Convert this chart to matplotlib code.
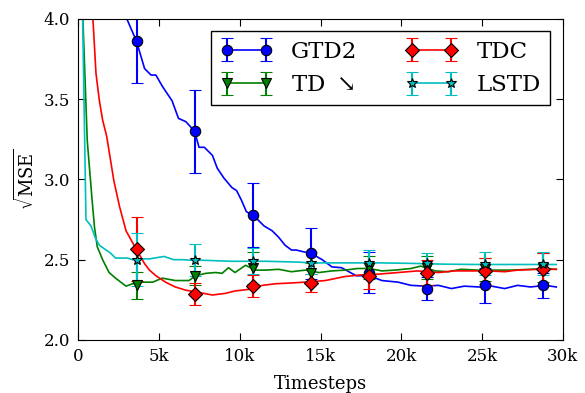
import numpy as np
import matplotlib
matplotlib.use('Agg')
import matplotlib.pyplot as plt

plt.rcParams['font.family'] = 'DejaVu Serif'
plt.rcParams['mathtext.fontset'] = 'dejavuserif'

# curves (x in thousands of timesteps)
gtd2_x = [2.0, 3.0, 3.6, 4.1, 4.5, 4.8, 5.2, 5.8, 6.2, 6.65, 7.2, 7.47, 7.8, 8.3, 8.6, 9.0, 9.5, 9.8,
          10.1, 10.4, 10.7, 11.0, 11.5, 12.0, 12.4, 12.8, 13.2, 13.5, 13.9, 14.4, 15.1, 15.7, 16.3,
          17.2, 18.0, 18.8, 19.8, 20.6, 21.5, 22.3, 23.1, 23.9, 24.8, 25.6, 26.4, 27.2, 28.0, 28.9, 29.6]
gtd2_y = [4.25, 4.0, 3.86, 3.69, 3.65, 3.65, 3.58, 3.49, 3.38, 3.36, 3.30, 3.20, 3.20, 3.15, 3.07, 3.01,
          2.95, 2.93, 2.87, 2.80, 2.78, 2.76, 2.71, 2.68, 2.64, 2.59, 2.56, 2.56, 2.55, 2.54, 2.50, 2.455,
          2.45, 2.40, 2.40, 2.37, 2.36, 2.34, 2.335, 2.34, 2.32, 2.335, 2.33, 2.335, 2.32, 2.34, 2.33,
          2.34, 2.33]

td_x = [0.1, 0.55, 0.85, 1.0, 1.17, 1.5, 1.9, 2.3, 2.95, 3.35, 3.96, 4.6, 5.2, 6.0, 6.85, 7.26, 7.9, 8.5,
        8.9, 9.3, 9.7, 10.35, 10.97, 11.6, 12.4, 13.2, 14.05, 14.9, 15.7, 16.5, 17.3, 18.0, 18.8, 19.6,
        20.6, 21.2, 22.1, 22.9, 23.7, 24.75, 25.8, 26.8, 28.0, 28.9, 29.6]
td_y = [4.5, 3.24, 2.87, 2.70, 2.58, 2.50, 2.42, 2.385, 2.335, 2.35, 2.36, 2.36, 2.385, 2.37, 2.37, 2.40,
        2.415, 2.42, 2.415, 2.45, 2.42, 2.465, 2.435, 2.435, 2.44, 2.425, 2.435, 2.42, 2.43, 2.435, 2.445,
        2.445, 2.43, 2.435, 2.445, 2.46, 2.43, 2.425, 2.44, 2.435, 2.435, 2.435, 2.44, 2.445, 2.44]

tdc_x = [0.6, 0.9, 1.09, 1.3, 1.5, 1.75, 2.2, 2.55, 2.95, 3.5, 4.1, 4.4, 4.8, 5.4, 6.0, 6.65, 7.5, 8.3,
         9.1, 9.7, 10.55, 11.4, 12.2, 13.2, 14.05, 15.3, 16.5, 17.5, 18.6, 19.8, 21.0, 22.3, 23.3, 24.3,
         25.4, 26.4, 27.2, 28.5, 29.6]
tdc_y = [4.55, 4.0, 3.66, 3.49, 3.37, 3.27, 2.99, 2.83, 2.68, 2.58, 2.475, 2.435, 2.40, 2.36, 2.33, 2.31,
         2.295, 2.28, 2.29, 2.305, 2.315, 2.34, 2.35, 2.355, 2.36, 2.37, 2.395, 2.405, 2.41, 2.42, 2.43,
         2.42, 2.43, 2.43, 2.43, 2.425, 2.435, 2.44, 2.44]

lstd_x = [0.1, 0.47, 0.78, 1.05, 1.3, 1.65, 2.0, 2.3, 3.05, 3.35, 4.07, 4.4, 5.3, 5.9, 6.4, 6.95, 7.5,
          9.5, 11.6, 13.6, 14.4, 16.5, 18.6, 20.6, 22.7, 24.75, 26.8, 29.6]
lstd_y = [5.0, 2.75, 2.71, 2.635, 2.59, 2.565, 2.54, 2.51, 2.51, 2.50, 2.505, 2.505, 2.52, 2.50, 2.50,
          2.497, 2.497, 2.49, 2.49, 2.485, 2.48, 2.48, 2.48, 2.477, 2.472, 2.47, 2.47, 2.47]

# marked points with error bars
mark_x = [3.6, 7.2, 10.8, 14.4, 18.0, 21.6, 25.2, 28.8]
gtd2_m = [3.86, 3.30, 2.78, 2.54, 2.42, 2.32, 2.34, 2.34]
gtd2_e = [0.26, 0.26, 0.20, 0.16, 0.13, 0.07, 0.11, 0.08]
td_m = [2.34, 2.40, 2.45, 2.42, 2.45, 2.45, 2.44, 2.45]
td_e = [0.085, 0.06, 0.10, 0.06, 0.07, 0.07, 0.07, 0.09]
tdc_m = [2.565, 2.285, 2.335, 2.355, 2.40, 2.42, 2.43, 2.44]
tdc_e = [0.20, 0.07, 0.07, 0.055, 0.08, 0.08, 0.08, 0.10]
lstd_m = [2.50, 2.50, 2.49, 2.48, 2.48, 2.48, 2.475, 2.475]
lstd_e = [0.165, 0.10, 0.08, 0.07, 0.08, 0.06, 0.07, 0.07]

xticks = [0, 5, 10, 15, 20, 25, 30]
xtick_labels = ['0', '5k', '10k', '15k', '20k', '25k', '30k']
yticks = [2.0, 2.5, 3.0, 3.5, 4.0]

fig = plt.figure(figsize=(5.85, 3.93), dpi=100)
ax = fig.add_axes([0.134, 0.135, 0.828, 0.817])

series = [
    ('GTD2', gtd2_x, gtd2_y, gtd2_m, gtd2_e, 'b', 'o', 7.5),
    ('TD $\\searrow$', td_x, td_y, td_m, td_e, 'g', 'v', 7),
    ('TDC', tdc_x, tdc_y, tdc_m, tdc_e, 'r', 'D', 7),
    ('LSTD', lstd_x, lstd_y, lstd_m, lstd_e, 'c', '*', 7),
]

containers = []
for name, cx, cy, my, me, col, mk, ms in series:
    ax.plot(np.array(cx) * 1000, cy, color=col, lw=1.2)
    c = ax.errorbar(np.array(mark_x) * 1000, my, yerr=me, color=col, marker=mk, ms=ms,
                    mec='k', mew=0.8, ls='-', lw=1.2, elinewidth=1.5, capsize=4, capthick=1.5,
                    label=name)
    containers.append(c)

ax.set_xlim(0, 30000)
ax.set_ylim(2.0, 4.0)
ax.set_xticks(np.array(xticks) * 1000)
ax.set_xticklabels(xtick_labels)
ax.set_yticks(yticks)
ax.tick_params(direction='in', top=True, right=True, labelsize=12, length=5, pad=6)
ax.set_xlabel('Timesteps', fontsize=13, labelpad=7)
ax.set_ylabel('$\\sqrt{\\rm MSE}$', fontsize=13)

leg = ax.legend(ncol=2, numpoints=2, fontsize=16.5, loc='upper right', fancybox=False,
                framealpha=1, edgecolor='k', handlelength=2.3, columnspacing=2.1,
                borderaxespad=0.55)
leg.get_frame().set_linewidth(1.0)

# hide the connecting line between marked points (legend keeps it)
for c in containers:
    c[0].set_linestyle('none')

fig.savefig('out.png', dpi=100)
